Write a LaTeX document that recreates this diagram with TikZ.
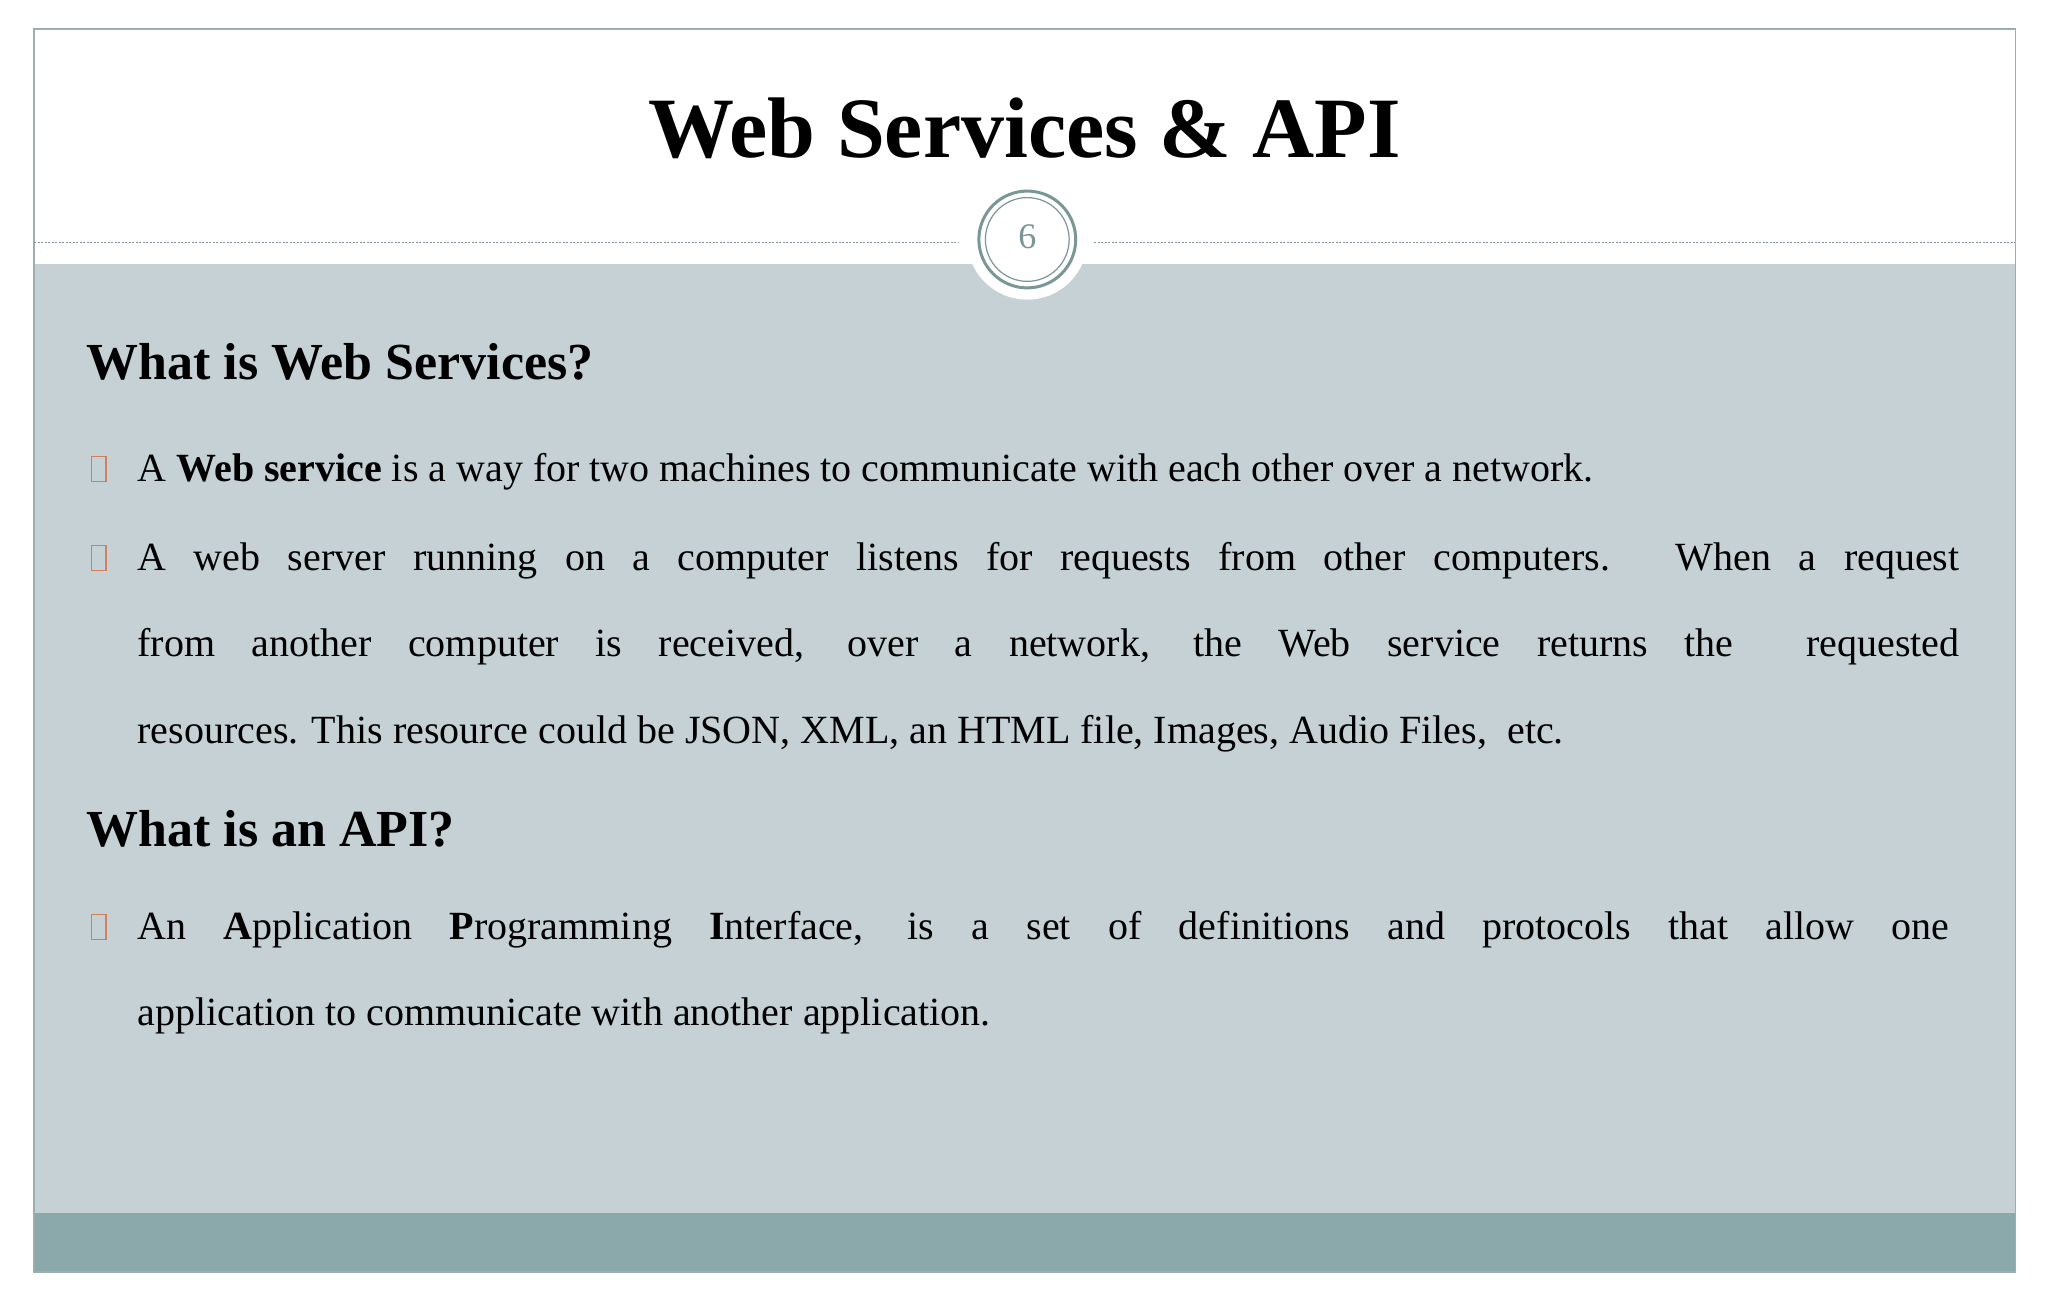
\documentclass[tikz,border=0pt]{standalone}
\usepackage{fontspec}
\setmainfont{Liberation Serif}
\definecolor{bodybg}{HTML}{C5D1D5}
\definecolor{band}{HTML}{8BA8AA}
\definecolor{ring}{HTML}{7A9696}
\definecolor{frame}{HTML}{9AAFB0}
\definecolor{bul}{HTML}{D08060}
\tikzset{
  txt/.style={anchor=base west, inner sep=0pt, font=\fontsize{40}{48}\selectfont},
  head/.style={anchor=base west, inner sep=0pt, font=\fontsize{52}{60}\selectfont\bfseries},
  bullet/.style={draw=bul, line width=1.3pt, fill=none}
}
\newcommand{\jline}[1]{\hbox to 1822pt{#1}}
\begin{document}
\begin{tikzpicture}[x=1.3087pt,y=-1.3087pt]
\useasboundingbox (0,0) rectangle (1565,992.6);
\fill[white] (0,0) rectangle (1565,992.6);
\fill[bodybg] (26,202) rectangle (1540,927);
\fill[band] (26,927) rectangle (1540,972);
\draw[frame, line width=1.5pt] (26,22) rectangle (1540,972);
\draw[ring, dashed, dash pattern=on 2pt off 1.5pt, line width=0.8pt] (26,185) -- (733,185);
\draw[ring, dashed, dash pattern=on 2pt off 1.5pt, line width=0.8pt] (836,185) -- (1540,185);
\fill[white] (785,183) circle (46);
\draw[ring, line width=3pt] (785,183) circle (37);
\draw[ring, line width=1.2pt] (785,183) circle (32);
\node[font=\fontsize{36}{40}\selectfont, text=ring] (pg) at (785,181) {6};
\node[anchor=base, inner sep=0pt, font=\fontsize{86}{96}\selectfont\bfseries] (title) at (783,120) {Web Services \& API};
\node[head] (h1) at (66,290) {What is Web Services?};
\draw[bullet] (70,349) rectangle (81,368);
\node[txt] (l1) at (105,368) {A \textbf{Web service} is a way for two machines to communicate with each other over a network.};
\draw[bullet] (70,417) rectangle (81,436);
\node[txt] (l2) at (105,436) {\jline{A web server running on a computer listens for requests from other computers. When a request}};
\node[txt] (l3) at (105,502) {\jline{from another computer is received, over a network, the Web service returns the \ requested}};
\node[txt] (l4) at (105,568) {resources. This resource could be JSON, XML, an HTML file, Images, Audio Files, \ etc.};
\node[head] (h2) at (66,647) {What is an API?};
\draw[bullet] (70,699) rectangle (81,718);
\node[txt] (l5) at (105,718) {\hbox to 1812pt{An \textbf{A}pplication \textbf{P}rogramming \textbf{I}nterface, is a set of definitions and protocols that allow one}};
\node[txt] (l6) at (105,784) {application to communicate with another application.};
\end{tikzpicture}
\end{document}
